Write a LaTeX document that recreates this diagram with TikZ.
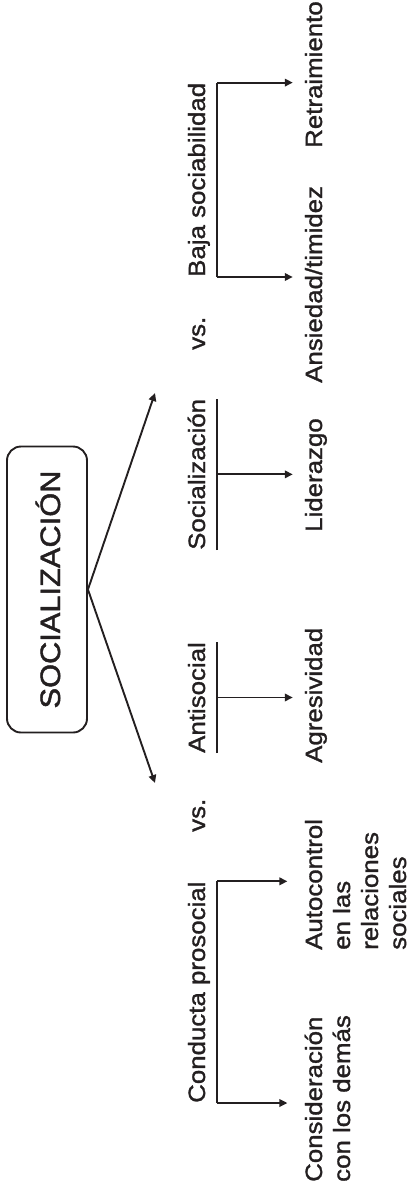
\documentclass[tikz,border=0pt]{standalone}
\usepackage{fontspec}
\newfontfamily\diagfont[FakeStretch=1.1, FakeBold=1.3]{Liberation Sans}
\newfontfamily\titlefont[FakeStretch=1.1, FakeBold=1.6]{Liberation Sans}
\usetikzlibrary{arrows.meta}
\definecolor{ink}{HTML}{231F20}
\newcommand{\stack}[1]{\begin{tabular}[t]{@{}l@{}}#1\end{tabular}}

\begin{document}
\begin{tikzpicture}[x=1pt, y=-1pt,
  line/.style={line width=1.9pt, draw=ink},
  arr/.style={line, -{Triangle[length=8pt,width=7.5pt]}},
  tochild/.style={arr, shorten >=12pt},
  lbl/.style={rotate=90, anchor=base west, inner sep=0pt, text=ink,
              font=\diagfont\fontsize{23.5}{28}\selectfont},
  head/.style={lbl, text depth=12pt},
  title/.style={rotate=90, line, rounded corners=14pt, text=ink,
                minimum width=286pt, minimum height=80pt, inner sep=0pt,
                text height=26pt, text depth=0pt,
                font=\titlefont\fontsize{28}{34}\selectfont}]
\useasboundingbox (0,0) rectangle (409,1192);

% central concept
\node[title] (soc) at (47,589.5) {SOCIALIZACIÓN};
\coordinate (upTip) at (155,393);
\coordinate (dnTip) at (155,783);
\draw[arr] (soc.south) -- (upTip);
\draw[arr] (soc.south) -- (dnTip);

% dimension headings
\node[head] (baja) at (205,277) {Baja sociabilidad};
\node[lbl]  (vsA)  at (205,350) {vs.};
\node[head] (socz) at (205,550) {Socialización};
\node[head] (anti) at (205,753) {Antisocial};
\node[lbl]  (vsB)  at (205,832) {vs.};
\node[head] (cond) at (205,1103) {Conducta prosocial};

% underlying traits
\node[lbl] (retr) at (322,148) {Retraimiento};
\node[lbl] (ansi) at (322,383) {Ansiedad/timidez};
\node[lbl] (lide) at (322,532) {Liderazgo};
\node[lbl] (agre) at (322,763) {Agresividad};
\node[lbl] (auto) at (322,950) {\stack{Autocontrol\\en las\\relaciones\\sociales}};
\node[lbl] (cons) at (322,1182) {\stack{Consideración\\con los demás}};

% underlines and branches
\foreach \h in {baja,socz,anti,cond}
  \draw[line] (\h.south west) -- (\h.south east);
\draw[tochild] (baja.south east) -- (baja.south east -| retr.north);
\draw[tochild] (baja.south west) -- (baja.south west -| ansi.north);
\draw[tochild] (socz.south) -- (socz.south -| lide.north);
\draw[tochild] (anti.south) -- (anti.south -| agre.north);
\draw[tochild, shorten >=14.8pt] (cond.south east) -- (cond.south east -| auto.north);
\draw[tochild, shorten >=14.8pt] (cond.south west) -- (cond.south west -| cons.north);
\end{tikzpicture}
\end{document}
